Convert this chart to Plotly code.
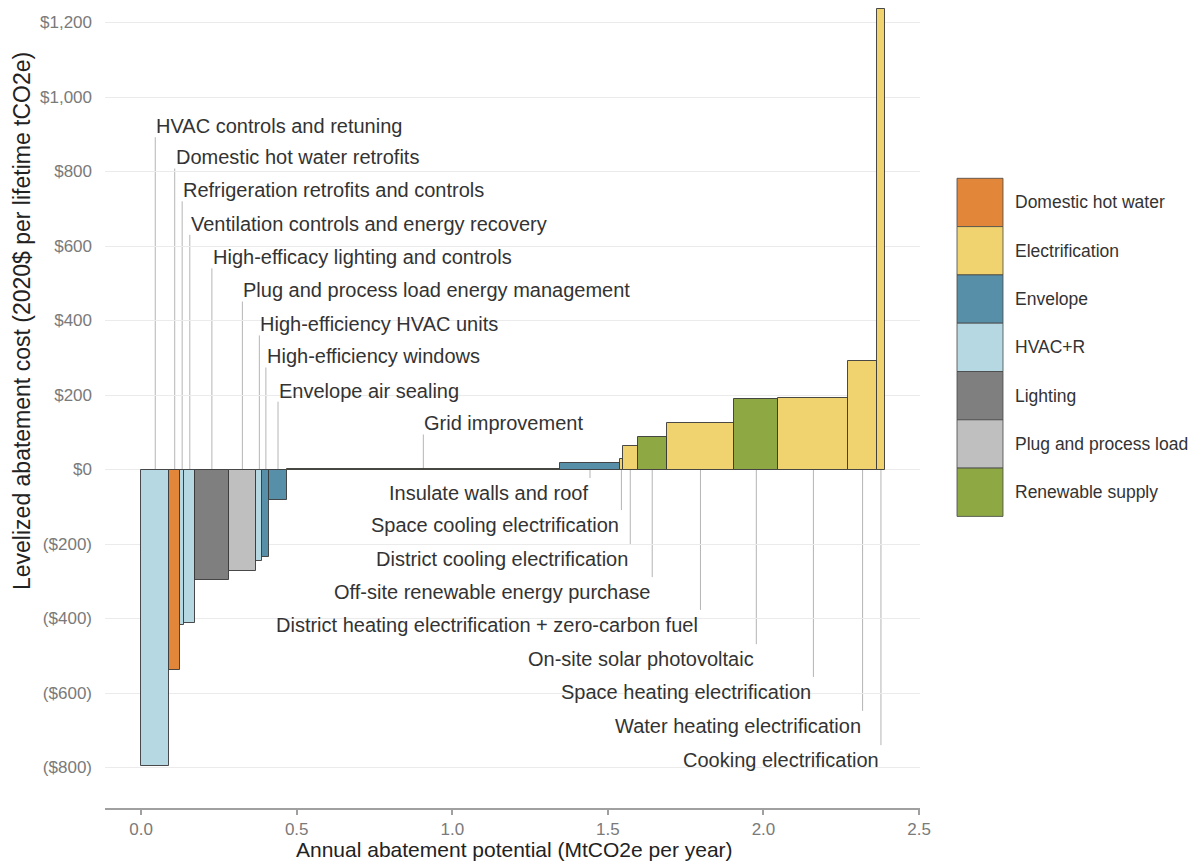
import plotly.graph_objects as go
import numpy as np

# ---------------- data ----------------
measures = [
    "HVAC controls and retuning", "Domestic hot water retrofits",
    "Refrigeration retrofits and controls", "Ventilation controls and energy recovery",
    "High-efficacy lighting and controls", "Plug and process load energy management",
    "High-efficiency HVAC units", "High-efficiency windows", "Envelope air sealing",
    "Grid improvement", "Insulate walls and roof", "Space cooling electrification",
    "District cooling electrification", "Off-site renewable energy purchase",
    "District heating electrification + zero-carbon fuel", "On-site solar photovoltaic",
    "Space heating electrification", "Water heating electrification", "Cooking electrification",
]
categories = [
    "HVAC+R", "Domestic hot water", "HVAC+R", "HVAC+R", "Lighting", "Plug and process load",
    "HVAC+R", "Envelope", "Envelope", "Renewable supply", "Envelope", "Electrification",
    "Electrification", "Renewable supply", "Electrification", "Renewable supply",
    "Electrification", "Electrification", "Electrification",
]
potential = [0.091, 0.034, 0.014, 0.035, 0.107, 0.089, 0.020, 0.022, 0.056, 0.878,
             0.193, 0.009, 0.048, 0.093, 0.217, 0.142, 0.225, 0.091, 0.027]
cost = [-795, -538, -417, -411, -297, -272, -245, -236, -82, 0.5,
        17, 28, 63, 86, 126, 188, 191, 291, 1236]

legend_order = ["Domestic hot water", "Electrification", "Envelope", "HVAC+R",
                "Lighting", "Plug and process load", "Renewable supply"]
colors = {
    "Domestic hot water": "#E2873A",
    "Electrification": "#F0D36F",
    "Envelope": "#578FA8",
    "HVAC+R": "#B6D8E3",
    "Lighting": "#7F7F7F",
    "Plug and process load": "#BFBFBF",
    "Renewable supply": "#8EA944",
}
y_tickvals = [-800, -600, -400, -200, 0, 200, 400, 600, 800, 1000, 1200]
y_ticktext = ["($800)", "($600)", "($400)", "($200)", "$0", "$200", "$400",
              "$600", "$800", "$1,000", "$1,200"]
x_tickvals = [0.0, 0.5, 1.0, 1.5, 2.0, 2.5]
x_ticktext = ["0.0", "0.5", "1.0", "1.5", "2.0", "2.5"]

# label layout (positions, not data): measures labelled above (left-anchored) / below (right-anchored)
top_labels = {  # label y in data units
    "HVAC controls and retuning": 922, "Domestic hot water retrofits": 838,
    "Refrigeration retrofits and controls": 750, "Ventilation controls and energy recovery": 660,
    "High-efficacy lighting and controls": 570, "Plug and process load energy management": 481,
    "High-efficiency HVAC units": 390, "High-efficiency windows": 304,
    "Envelope air sealing": 212, "Grid improvement": 124,
}
bottom_labels = {
    "Insulate walls and roof": -63, "Space cooling electrification": -149,
    "District cooling electrification": -240, "Off-site renewable energy purchase": -329,
    "District heating electrification + zero-carbon fuel": -417,
    "On-site solar photovoltaic": -509, "Space heating electrification": -597,
    "Water heating electrification": -688, "Cooking electrification": -780,
}

# ---------------- geometry from data ----------------
pot = np.array(potential)
ends = np.cumsum(pot)
starts = ends - pot
centers = (starts + ends) / 2
center_of = dict(zip(measures, centers))

FONT = "Liberation Sans, Arial, sans-serif"
fig = go.Figure()

for cat in legend_order:
    idx = [i for i, c in enumerate(categories) if c == cat]
    fig.add_trace(go.Bar(
        x=[centers[i] for i in idx], y=[cost[i] for i in idx],
        width=[potential[i] for i in idx], name=cat,
        marker=dict(color=colors[cat], line=dict(color="rgba(55,55,55,0.9)", width=1)),
        showlegend=False, hovertext=[measures[i] for i in idx],
    ))

shapes = []
annotations = []
for name, ly in top_labels.items():
    cx = center_of[name]
    shapes.append(dict(type="line", xref="x", yref="y", x0=cx, x1=cx, y0=0, y1=ly - 30,
                       line=dict(color="#B5B5B5", width=1), layer="below"))
    annotations.append(dict(x=cx, y=ly, xref="x", yref="y", text=name, showarrow=False,
                            xanchor="left", yanchor="middle", xshift=-1,
                            font=dict(family=FONT, size=20, color="#333333")))
for name, ly in bottom_labels.items():
    cx = center_of[name]
    shapes.append(dict(type="line", xref="x", yref="y", x0=cx, x1=cx, y0=0, y1=ly + 40,
                       line=dict(color="#B5B5B5", width=1), layer="below"))
    annotations.append(dict(x=cx, y=ly, xref="x", yref="y", text=name, showarrow=False,
                            xanchor="right", yanchor="middle", xshift=0,
                            font=dict(family=FONT, size=20, color="#333333")))

# page has an 8px body margin: figure is placed at screen (8, 8)
OFF = 8
W, H = 1199 - OFF, 865 - OFF
L, R, B, T = 105 - OFF, 920 - OFF, 808 - OFF, 0   # figure-pixel plot box
def px_x(p): return (p - OFF - L) / (R - L)       # screen px -> paper
def px_y(p): return (B - (p - OFF)) / (B - T)

# custom legend with large keys (paper coordinates)
key_top, key_h = 178.3, 48.3
for k, cat in enumerate(legend_order):
    y0 = key_top + k * key_h
    shapes.append(dict(type="rect", xref="paper", yref="paper",
                       x0=px_x(957), x1=px_x(1003), y0=px_y(y0 + key_h), y1=px_y(y0),
                       fillcolor=colors[cat], line=dict(color="rgba(70,70,70,0.8)", width=1)))
    annotations.append(dict(x=px_x(1013), y=px_y(y0 + key_h / 2), xref="paper", yref="paper",
                            text=cat, showarrow=False, xanchor="left", yanchor="middle",
                            font=dict(family=FONT, size=17.5, color="#333333")))

# axis titles
annotations.append(dict(x=px_x(514), y=px_y(849), xref="paper", yref="paper",
                        text="Annual abatement potential (MtCO2e per year)", showarrow=False,
                        xanchor="center", yanchor="middle",
                        font=dict(family=FONT, size=21, color="#222222")))
annotations.append(dict(x=px_x(22), y=px_y(321), xref="paper", yref="paper",
                        text="Levelized abatement cost (2020$ per lifetime tCO2e)", showarrow=False,
                        xanchor="center", yanchor="middle", textangle=-90,
                        font=dict(family=FONT, size=23, color="#222222")))

ppd = 0.3725  # px per dollar in reference
y_top = (469.5 - OFF) / ppd
y_bot = (469.5 - 808) / ppd

fig.update_layout(
    width=W, height=H,
    margin=dict(l=L, r=W - R, t=T, b=H - B),
    paper_bgcolor="white", plot_bgcolor="white",
    barmode="overlay", bargap=0,
    shapes=shapes, annotations=annotations,
    font=dict(family=FONT),
    xaxis=dict(range=[-0.116, 2.503], tickvals=x_tickvals, ticktext=x_ticktext,
               showgrid=False, zeroline=False, showline=True, linecolor="#A0A0A0", linewidth=1.5,
               ticks="outside", ticklen=5, tickcolor="#A0A0A0", tickwidth=1.5,
               tickfont=dict(family=FONT, size=17, color="#7A7A7A")),
    yaxis=dict(range=[y_bot, y_top], tickvals=y_tickvals, ticktext=y_ticktext,
               showgrid=True, gridcolor="#EBEBEB", gridwidth=1, zeroline=False, showline=False,
               ticks="", ticklabelstandoff=12,
               tickfont=dict(family=FONT, size=17, color="#7A7A7A")),
)

fig.write_html("out.html")
